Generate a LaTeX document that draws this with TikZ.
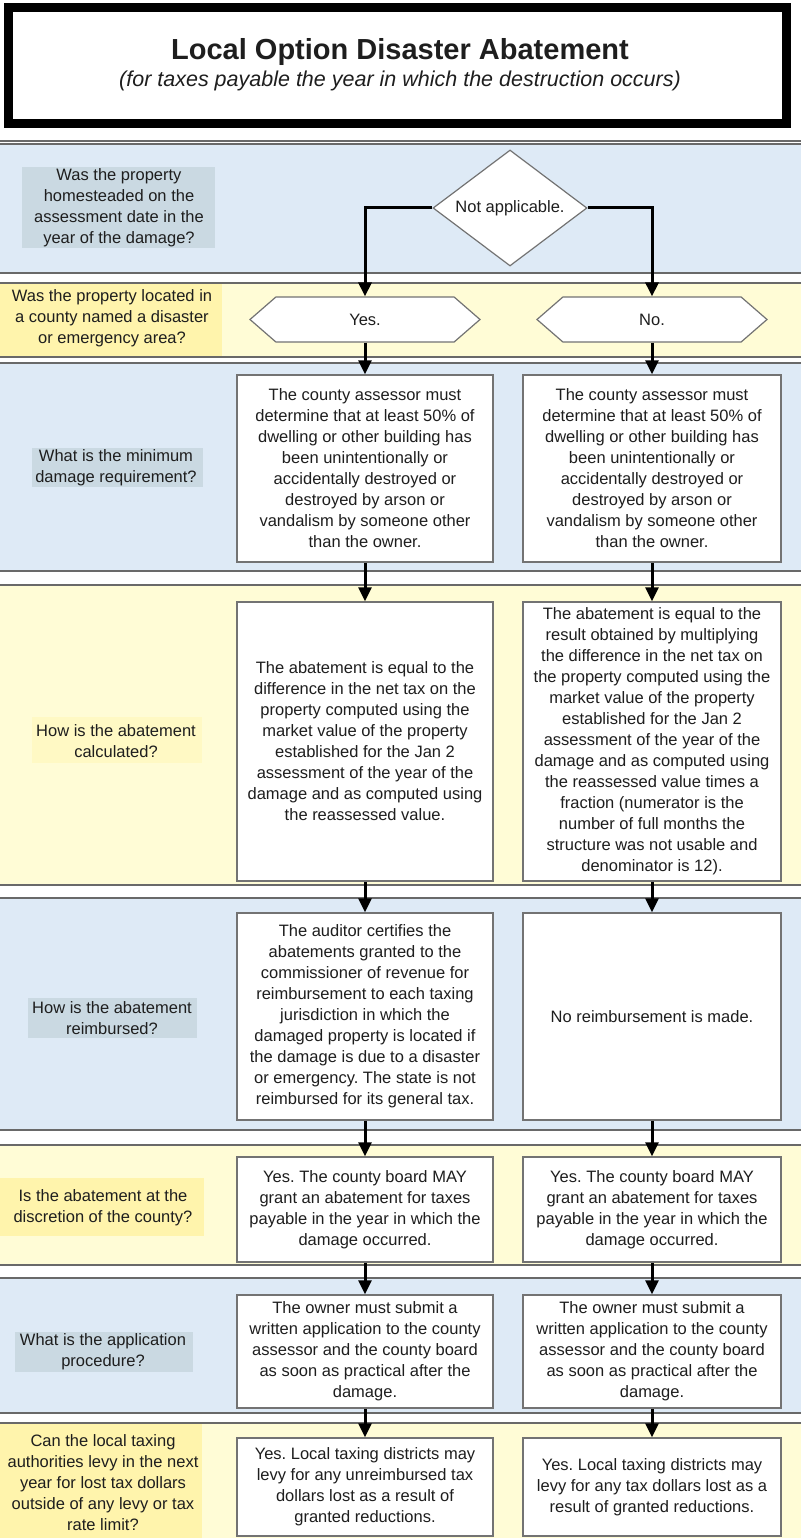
\documentclass[tikz,border=0pt]{standalone}
\usepackage{fontspec}
\setmainfont{Liberation Sans}
\usetikzlibrary{arrows.meta,shapes.geometric,shapes.symbols}
\definecolor{bandblue}{RGB}{222,234,246}
\definecolor{bandyellow}{RGB}{255,252,214}
\definecolor{labblue}{RGB}{202,217,226}
\definecolor{labyellow}{RGB}{255,244,172}
\definecolor{labyellowlight}{RGB}{255,249,196}
\definecolor{sepgray}{RGB}{105,105,105}
\definecolor{txt}{RGB}{30,30,30}
\definecolor{boxgray}{RGB}{115,115,115}
\frenchspacing
\begin{document}
\begin{tikzpicture}[x=1pt,y=-1pt,
  bodyfont/.style={font=\fontsize{16.5}{21}\selectfont},
  box/.style={bodyfont, text=txt, draw=boxgray, line width=1.5pt, fill=white, align=center, inner sep=2pt},
  lab/.style={bodyfont, text=txt, align=center, inner sep=0pt},
  conn/.style={line width=3pt, draw=black, -{Triangle[width=13pt,length=14pt]}},
  hexa/.style={bodyfont, text=txt, shape=signal, signal to=west and east, signal pointer angle=82,
     draw=boxgray, line width=1.2pt, fill=white, minimum width=230, minimum height=45, inner sep=0pt},
  dia/.style={bodyfont, text=txt, shape=diamond, aspect=1.33, draw=boxgray, line width=1.2pt, fill=white,
     minimum width=154, minimum height=116, inner sep=0pt},
  bandb/.style={fill=bandblue, draw=sepgray, line width=1.3pt},
  bandy/.style={fill=bandyellow, draw=sepgray, line width=1.3pt}
]
\useasboundingbox (0,0) rectangle (800,1538);
\fill[white] (0,0) rectangle (800,1538);

% title
\draw[line width=9pt] (8.5,7.5) rectangle (786.5,123.5);
\node[font=\bfseries\fontsize{29}{32}\selectfont, text=txt] (title) at (400,52) {Local Option Disaster Abatement};
\node[font=\itshape\fontsize{21.5}{24}\selectfont, text=txt] (subtitle) at (400,81) {(for taxes payable the year in which the destruction occurs)};
\draw[sepgray, line width=1.6pt] (-2,141) -- (802,141);

% bands
\draw[bandb] (-2,144) rectangle (802,273);
\draw[bandy] (-2,283) rectangle (802,357);
\draw[bandb] (-2,363) rectangle (802,571);
\draw[bandy] (-2,585) rectangle (802,885);
\draw[bandb] (-2,898) rectangle (802,1130);
\draw[bandy] (-2,1145) rectangle (802,1265);
\draw[bandb] (-2,1278) rectangle (802,1413);
\draw[bandy] (-2,1423) rectangle (802,1545);

% question labels
\fill[labblue] (22,167) rectangle (215,248);
\node[lab] (q1) at (119,208) {Was the property\\homesteaded on the\\assessment date in the\\year of the damage?};
\fill[labyellow] (0,284) rectangle (222,356);
\node[lab] (q2) at (112,318) {Was the property located in\\a county named a disaster\\or emergency area?};
\fill[labblue] (32,448) rectangle (203,487);
\node[lab] (q3) at (116,468) {What is the minimum\\damage requirement?};
\fill[labyellowlight] (32,717) rectangle (202,763);
\node[lab] (q4) at (116,741) {How is the abatement\\calculated?};
\fill[labblue] (28,998) rectangle (197,1038);
\node[lab] (q5) at (112,1018) {How is the abatement\\reimbursed?};
\fill[labyellow] (0,1178) rectangle (204,1236);
\node[lab] (q6) at (103,1208) {Is the abatement at the\\discretion of the county?};
\fill[labblue] (15,1332) rectangle (193,1372);
\node[lab] (q7) at (103,1352) {What is the application\\procedure?};
\fill[labyellow] (0,1424) rectangle (202,1538);
\node[lab] (q8) at (103,1483) {Can the local taxing\\authorities levy in the next\\year for lost tax dollars\\outside of any levy or tax\\rate limit?};

% decision shapes
\node[dia] (na) at (510,208) {Not applicable.};
\node[hexa] (yes) at (365,319.5) {Yes.};
\node[hexa] (no) at (652,319.5) {No.};

% boxes left / right
\node[box, minimum width=256, minimum height=187] (dL) at (365,468.5) {The county assessor must\\determine that at least 50\% of\\dwelling or other building has\\been unintentionally or\\accidentally destroyed or\\destroyed by arson or\\vandalism by someone other\\than the owner.};
\node[box, minimum width=258, minimum height=187] (dR) at (652,468.5) {The county assessor must\\determine that at least 50\% of\\dwelling or other building has\\been unintentionally or\\accidentally destroyed or\\destroyed by arson or\\vandalism by someone other\\than the owner.};

\node[box, minimum width=256, minimum height=279] (cL) at (365,741.5) {The abatement is equal to the\\difference in the net tax on the\\property computed using the\\market value of the property\\established for the Jan 2\\assessment of the year of the\\damage and as computed using\\the reassessed value.};
\node[box, minimum width=258, minimum height=279] (cR) at (652,741.5) {The abatement is equal to the\\result obtained by multiplying\\the difference in the net tax on\\the property computed using the\\market value of the property\\established for the Jan 2\\assessment of the year of the\\damage and as computed using\\the reassessed value times a\\fraction (numerator is the\\number of full months the\\structure was not usable and\\denominator is 12).};

\node[box, minimum width=256, minimum height=207] (rL) at (365,1016.5) {The auditor certifies the\\abatements granted to the\\commissioner of revenue for\\reimbursement to each taxing\\jurisdiction in which the\\damaged property is located if\\the damage is due to a disaster\\or emergency. The state is not\\reimbursed for its general tax.};
\node[box, minimum width=258, minimum height=207] (rR) at (652,1016.5) {No reimbursement is made.};

\node[box, minimum width=256, minimum height=105] (sL) at (365,1209.5) {Yes. The county board MAY\\grant an abatement for taxes\\payable in the year in which the\\damage occurred.};
\node[box, minimum width=258, minimum height=105] (sR) at (652,1209.5) {Yes. The county board MAY\\grant an abatement for taxes\\payable in the year in which the\\damage occurred.};

\node[box, minimum width=256, minimum height=113] (pL) at (365,1351.5) {The owner must submit a\\written application to the county\\assessor and the county board\\as soon as practical after the\\damage.};
\node[box, minimum width=258, minimum height=113] (pR) at (652,1351.5) {The owner must submit a\\written application to the county\\assessor and the county board\\as soon as practical after the\\damage.};

\node[box, minimum width=256, minimum height=98] (lL) at (365,1487) {Yes. Local taxing districts may\\levy for any unreimbursed tax\\dollars lost as a result of\\granted reductions.};
\node[box, minimum width=258, minimum height=98] (lR) at (652,1487) {Yes. Local taxing districts may\\levy for any tax dollars lost as a\\result of granted reductions.};

% connectors
\draw[conn] (na.west) -| (yes.north);
\draw[conn] (na.east) -| (no.north);
\draw[conn] (yes.south) -- (dL.north);
\draw[conn] (no.south) -- (dR.north);
\draw[conn] (dL.south) -- (cL.north);
\draw[conn] (dR.south) -- (cR.north);
\draw[conn] (cL.south) -- (rL.north);
\draw[conn] (cR.south) -- (rR.north);
\draw[conn] (rL.south) -- (sL.north);
\draw[conn] (rR.south) -- (sR.north);
\draw[conn] (sL.south) -- (pL.north);
\draw[conn] (sR.south) -- (pR.north);
\draw[conn] (pL.south) -- (lL.north);
\draw[conn] (pR.south) -- (lR.north);
\end{tikzpicture}
\end{document}
